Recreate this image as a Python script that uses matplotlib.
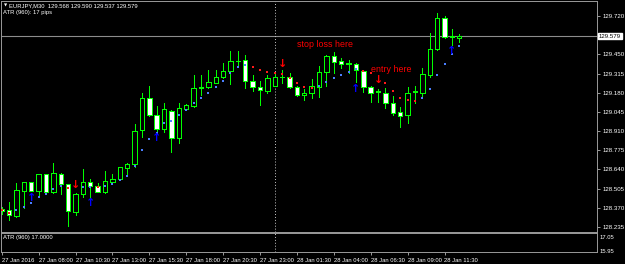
import matplotlib
matplotlib.use('Agg')
import matplotlib.pyplot as plt
from matplotlib.transforms import blended_transform_factory

# ---------------- data (EURJPY, M30) ----------------
opens = [128.362, 128.354, 128.314, 128.490, 128.552, 128.490, 128.606, 128.481, 128.610, 128.535,
         128.343, 128.465, 128.552, 128.526, 128.483, 128.552, 128.571, 128.648, 128.678, 128.918,
         129.141, 129.023, 128.923, 129.053, 128.859, 129.068, 129.087, 129.211, 129.218, 129.250,
         129.289, 129.335, 129.405, 129.410, 129.265, 129.218, 129.194, 129.229, 129.293, 129.293,
         129.218, 129.162, 129.176, 129.222, 129.324, 129.436, 129.403, 129.389, 129.382, 129.335,
         129.222, 129.189, 129.180, 129.110, 129.044, 129.023, 129.187, 129.180, 129.305, 129.486,
         129.704, 129.574, 129.568]
highs = [128.376, 128.413, 128.542, 128.553, 128.555, 128.609, 128.611, 128.683, 128.615, 128.538,
         128.474, 128.641, 128.573, 128.542, 128.631, 128.608, 128.659, 128.687, 128.960, 129.180,
         129.227, 129.087, 129.106, 129.058, 129.106, 129.101, 129.305, 129.305, 129.340, 129.340,
         129.387, 129.476, 129.476, 129.446, 129.305, 129.265, 129.305, 129.312, 129.340, 129.317,
         129.224, 129.204, 129.274, 129.368, 129.446, 129.469, 129.422, 129.410, 129.386, 129.340,
         129.227, 129.204, 129.211, 129.157, 129.082, 129.218, 129.227, 129.352, 129.602, 129.739,
         129.720, 129.626, 129.590]
lows = [128.326, 128.284, 128.307, 128.366, 128.485, 128.460, 128.467, 128.472, 128.465, 128.242,
        128.319, 128.448, 128.448, 128.478, 128.476, 128.542, 128.566, 128.608, 128.659, 128.870,
        129.016, 128.894, 128.906, 128.765, 128.828, 129.058, 129.082, 129.164, 129.211, 129.246,
        129.287, 129.241, 129.368, 129.211, 129.194, 129.093, 129.176, 129.227, 129.246, 129.213,
        129.160, 129.129, 129.141, 129.148, 129.227, 129.321, 129.352, 129.317, 129.258, 129.187,
        129.117, 129.117, 129.070, 129.023, 128.941, 128.965, 129.106, 129.141, 129.293, 129.481,
        129.563, 129.516, 129.537]
closes = [128.347, 128.317, 128.495, 128.552, 128.490, 128.608, 128.481, 128.613, 128.535, 128.347,
          128.465, 128.552, 128.523, 128.483, 128.557, 128.573, 128.655, 128.678, 128.913, 129.141,
          129.023, 128.925, 129.063, 128.859, 129.070, 129.091, 129.211, 129.218, 129.253, 129.289,
          129.335, 129.405, 129.404, 129.265, 129.218, 129.199, 129.281, 129.293, 129.292, 129.218,
          129.164, 129.180, 129.227, 129.324, 129.438, 129.398, 129.384, 129.385, 129.340, 129.222,
          129.176, 129.185, 129.110, 129.039, 129.018, 129.180, 129.190, 129.310, 129.486, 129.704,
          129.570, 129.577, 129.579]

# indicator dots (bar index, price)
blue_idx = [2, 3, 4, 5, 6, 7, 8, 11, 12, 14, 15, 16, 17, 18, 19, 20, 21, 22, 23, 24, 25, 26, 27,
            28, 29, 30, 31, 32, 33, 43, 44, 45, 46, 47, 48, 57, 58, 59, 60, 61, 62]
blue_val = [128.352, 128.378, 128.404, 128.448, 128.467, 128.504, 128.526, 128.519, 128.519,
            128.526, 128.540, 128.564, 128.594, 128.666, 128.777, 128.852, 128.899, 128.965,
            128.983, 129.023, 129.058, 129.106, 129.141, 129.176, 129.222, 129.265, 129.321,
            129.363, 129.375, 129.227, 129.258, 129.284, 129.305, 129.328, 129.345, 129.145,
            129.206, 129.305, 129.380, 129.450, 129.509]
red_idx = [0, 1, 9, 13, 34, 35, 36, 37, 38, 39, 40, 41, 42, 49, 50, 52, 53, 54, 55, 56]
red_val = [128.355, 128.336, 128.512, 128.516, 129.363, 129.340, 129.328, 129.321, 129.310,
           129.282, 129.251, 129.222, 129.215, 129.335, 129.317, 129.246, 129.194, 129.143,
           129.129, 129.124]
up_idx = [4, 12, 21, 48, 61]
up_val = [128.439, 128.404, 128.861, 129.206, 129.474]
down_idx = [10, 38, 51]
down_val = [128.531, 129.382, 129.270]

price_ticks = [129.720, 129.450, 129.315, 129.180, 129.045, 128.910, 128.775,
               128.640, 128.505, 128.370, 128.235]
bid_price = 129.579
time_tick_idx = [0, 5, 10, 15, 20, 25, 30, 35, 40, 45, 50, 55, 60]
time_labels = ["27 Jan 2016", "27 Jan 08:00", "27 Jan 10:30", "27 Jan 13:00", "27 Jan 15:30",
               "27 Jan 18:00", "27 Jan 20:30", "27 Jan 23:00", "28 Jan 01:30", "28 Jan 04:00",
               "28 Jan 06:30", "28 Jan 09:00", "28 Jan 11:30"]
day_sep_idx = 37
atr_ticks = [17.05, 15.95]
header = "EURJPY,M30  129.568 129.590 129.537 129.579"
atr_header = "ATR (960): 17 pips"
atr_label = "ATR (960) 17.0000"

# ---------------- layout ----------------
W, H = 625, 264
fig = plt.figure(figsize=(W / 100, H / 100), dpi=100, facecolor='black')


def frac(x0, y0, x1, y1):
    return [x0 / W, 1 - y1 / H, (x1 - x0) / W, (y1 - y0) / H]


ax = fig.add_axes(frac(1, 1, 597, 231.5))
ax2 = fig.add_axes(frac(1, 233.3, 597, 252.3), sharex=ax)
for a in (ax, ax2):
    a.set_facecolor('black')
    for s in a.spines.values():
        s.set_color('#9a9a9a')
        s.set_linewidth(0.7)

bar_px = 7.38
x0_px = 1.7
ax.set_xlim((1 - x0_px) / bar_px, (597 - x0_px) / bar_px)
px_per_unit = 0.0070386
top_price = 129.720 + (16 - 1) * px_per_unit
bot_price = 129.720 - (231.5 - 16) * px_per_unit
ax.set_ylim(bot_price, top_price)

GREEN = '#00ff00'
FONT = ['Liberation Sans', 'DejaVu Sans']

# bid line and day separator
ax.axhline(bid_price, color='#8c8c8c', lw=0.8, zorder=0.5)
for a in (ax, ax2):
    a.axvline(day_sep_idx, color='#c8c8c8', lw=0.7, linestyle=(0, (1, 2)), zorder=0.6)

# candles
n = len(opens)
xs = list(range(n))
ax.vlines(xs, lows, highs, color=GREEN, lw=0.7, zorder=1, antialiased=False)
bottoms = [min(o, c) for o, c in zip(opens, closes)]
heights = [max(abs(c - o), 0.0005) for o, c in zip(opens, closes)]
faces = ['black' if c >= o else 'white' for o, c in zip(opens, closes)]
ax.bar(xs, heights, bottom=bottoms, width=0.6, color=faces, edgecolor=GREEN,
       linewidth=0.7, zorder=2, antialiased=False)

# indicator dots
ax.scatter(blue_idx, blue_val, marker='s', s=3.5, color='#4a7fff', zorder=3, linewidths=0)
ax.scatter(red_idx, red_val, marker='s', s=3.5, color='#ff1a1a', zorder=3, linewidths=0)
for i, v in zip(up_idx, up_val):
    ax.text(i, v, '\u2191', color='#0000ff', fontsize=8, fontweight='bold',
            ha='center', va='center', family='DejaVu Sans', zorder=4)
for i, v in zip(down_idx, down_val):
    ax.text(i, v, '\u2193', color='#ff0000', fontsize=8, fontweight='bold',
            ha='center', va='center', family='DejaVu Sans', zorder=4)

# annotations
ax.text((297 - x0_px) / bar_px, 129.516, 'stop loss here', color='#ff0000', fontsize=6.4,
        family=FONT, ha='left', va='center', zorder=5)
ax.text((371 - x0_px) / bar_px, 129.340, 'entry here', color='#ff0000', fontsize=6.4,
        family=FONT, ha='left', va='center', zorder=5)

# header texts
ax.text(3 / 596, 1 - 4.5 / 230.5, '\u25bc', transform=ax.transAxes, color='white', fontsize=3,
        family='DejaVu Sans', ha='left', va='center')
ax.text(8 / 596, 1 - 4.5 / 230.5, header, transform=ax.transAxes, color='white', fontsize=4.2,
        family=FONT, ha='left', va='center')
ax.text(2 / 596, 1 - 11.5 / 230.5, atr_header, transform=ax.transAxes, color='white',
        fontsize=4.2, family=FONT, ha='left', va='center')

# right price axis
ax.yaxis.tick_right()
ax.set_yticks(price_ticks)
ax.set_yticklabels([f'{p:.3f}' for p in price_ticks])
ax.tick_params(axis='y', colors='#9a9a9a', labelcolor='white', length=2.5, width=0.7,
               pad=1.5, labelsize=4.4)
for lab in ax.get_yticklabels():
    lab.set_family(FONT)
ax.tick_params(axis='x', bottom=False, labelbottom=False)
tr = blended_transform_factory(ax.transAxes, ax.transData)
ax.text(1.0 + 2 / 596, bid_price, f'{bid_price:.3f}', transform=tr, color='black',
        fontsize=4.4, family=FONT, ha='left', va='center',
        bbox=dict(boxstyle='square,pad=0.15', facecolor='white', edgecolor='white'))

# ATR panel
ax2.set_ylim(15.85, 17.34)
ax2.yaxis.tick_right()
ax2.set_yticks(atr_ticks)
ax2.set_yticklabels([f'{v:.2f}' for v in atr_ticks])
ax2.tick_params(axis='y', colors='#9a9a9a', labelcolor='white', length=0, pad=2,
                labelsize=4.2)
for lab in ax2.get_yticklabels():
    lab.set_family(FONT)
ax2.text(2 / 596, 0.78, atr_label, transform=ax2.transAxes, color='white', fontsize=4.2,
         family=FONT, ha='left', va='center')

ax2.set_xticks(time_tick_idx)
ax2.set_xticklabels(time_labels)
ax2.tick_params(axis='x', colors='#9a9a9a', labelcolor='white', length=2.5, width=0.7,
                pad=1.5, labelsize=4.2)
for lab in ax2.get_xticklabels():
    lab.set_ha('left')
    lab.set_family(FONT)

fig.savefig('out.png', dpi=100, facecolor='black')
